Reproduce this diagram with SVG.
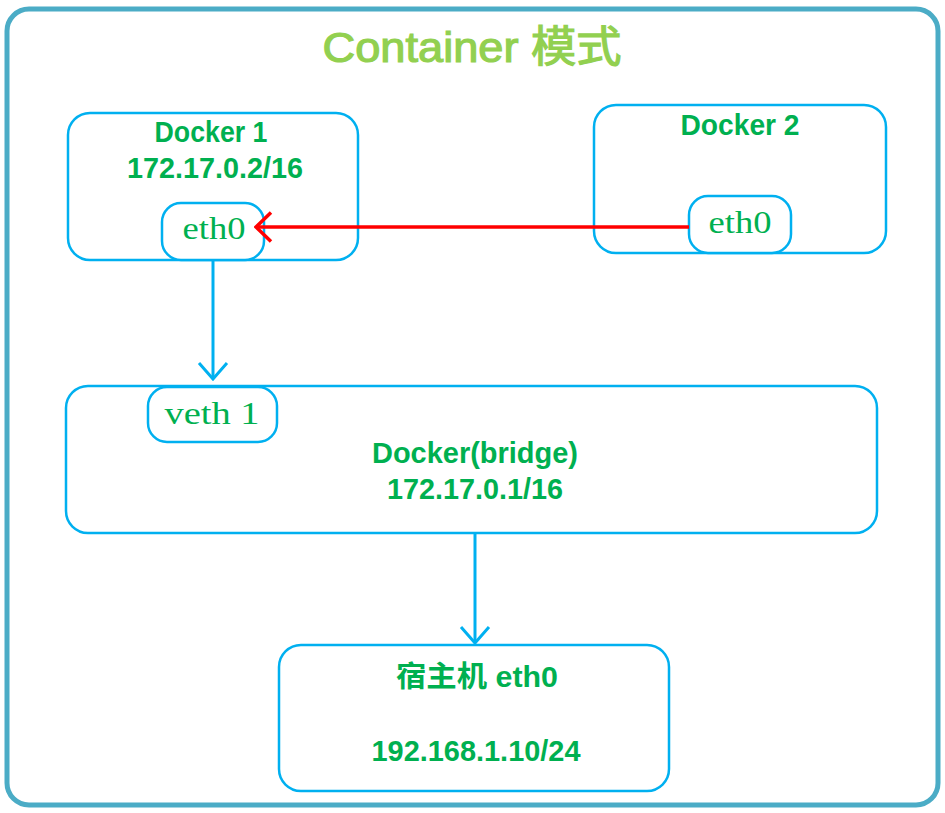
<svg xmlns="http://www.w3.org/2000/svg" width="945" height="813" viewBox="0 0 945 813">
<defs>
<style>
.frame{fill:#fff;stroke:#4bacc6;stroke-width:5}
.box{fill:#fff;stroke:#00b0f0;stroke-width:2.5}
.lbl{font-family:"Liberation Sans","Noto Sans CJK SC",sans-serif;font-weight:bold;font-size:29px;fill:#00b050;text-anchor:middle}
.port{font-family:"Liberation Serif","Noto Sans CJK SC",serif;font-size:31px;fill:#00b050;text-anchor:middle}
.title{font-family:"Liberation Sans","Noto Sans CJK SC",sans-serif;font-weight:normal;font-size:43px;fill:#92d050;stroke:#92d050;stroke-width:1.2;text-anchor:middle}
.blue{stroke:#00b0f0;stroke-width:3;fill:none}
.red{stroke:#ff0000;stroke-width:3.5;fill:none}
</style>
<marker id="ab" viewBox="0 0 20 32" refX="18" refY="16" markerWidth="20" markerHeight="32" markerUnits="userSpaceOnUse" orient="auto">
<path d="M2 2 L18 16 L2 30" fill="none" stroke="#00b0f0" stroke-width="3"/>
</marker>
<marker id="ar" viewBox="0 0 20 32" refX="18" refY="16" markerWidth="20" markerHeight="32" markerUnits="userSpaceOnUse" orient="auto">
<path d="M3 1.5 L18 16 L3 30.5" fill="none" stroke="#ff0000" stroke-width="3.5"/>
</marker>
</defs>
<rect width="945" height="813" fill="#fff"/>
<rect class="frame" x="7" y="9" width="931" height="796" rx="22"/>
<text class="title" x="472" y="62" textLength="299" lengthAdjust="spacingAndGlyphs">Container 模式</text>

<g id="docker1">
<rect class="box" x="68" y="113" width="290" height="147" rx="22"/>
<text class="lbl" x="211" y="142" textLength="113" lengthAdjust="spacingAndGlyphs">Docker 1</text>
<text class="lbl" x="215" y="178" textLength="176" lengthAdjust="spacingAndGlyphs">172.17.0.2/16</text>
</g>
<g id="docker1-eth0">
<rect class="box" x="162" y="203" width="102" height="57" rx="19"/>
<text class="port" x="214" y="239" textLength="63" lengthAdjust="spacingAndGlyphs">eth0</text>
</g>

<g id="docker2">
<rect class="box" x="594" y="105" width="292" height="148" rx="22"/>
<text class="lbl" x="740" y="135" textLength="119" lengthAdjust="spacingAndGlyphs">Docker 2</text>
</g>
<g id="docker2-eth0">
<rect class="box" x="689" y="196" width="102" height="57" rx="19"/>
<text class="port" x="740" y="233" textLength="63" lengthAdjust="spacingAndGlyphs">eth0</text>
</g>

<g id="bridge">
<rect class="box" x="66" y="386" width="811" height="147" rx="22"/>
<text class="lbl" x="475" y="463" textLength="206" lengthAdjust="spacingAndGlyphs">Docker(bridge)</text>
<text class="lbl" x="475" y="499" textLength="176" lengthAdjust="spacingAndGlyphs">172.17.0.1/16</text>
</g>
<g id="veth1">
<rect class="box" x="148" y="387" width="129" height="55" rx="19"/>
<text class="port" x="212" y="424" textLength="95" lengthAdjust="spacingAndGlyphs">veth 1</text>
</g>

<g id="host">
<rect class="box" x="279" y="645" width="390" height="146" rx="22"/>
<text class="lbl" x="477" y="687" textLength="162" lengthAdjust="spacingAndGlyphs">宿主机 eth0</text>
<text class="lbl" x="476" y="761" textLength="209" lengthAdjust="spacingAndGlyphs">192.168.1.10/24</text>
</g>

<g id="connectors">
<line class="red" x1="689" y1="227" x2="256" y2="227" marker-end="url(#ar)"/>
<line class="blue" x1="213" y1="261" x2="213" y2="379" marker-end="url(#ab)"/>
<line class="blue" x1="475" y1="534" x2="475" y2="643" marker-end="url(#ab)"/>
</g>
</svg>
